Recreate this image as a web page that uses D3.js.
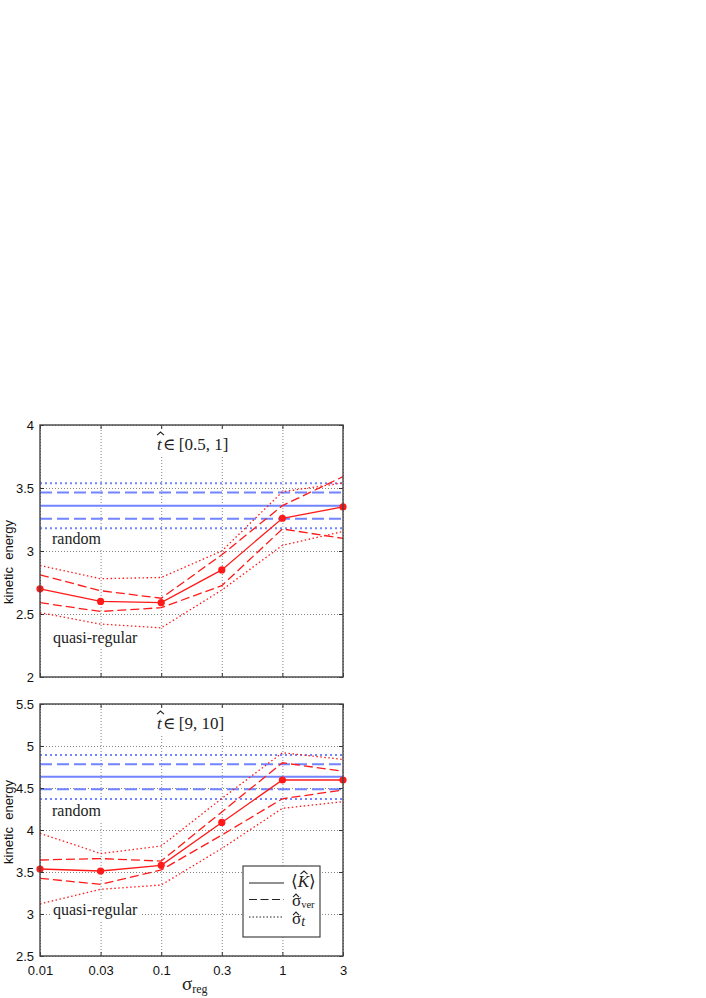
<!DOCTYPE html>
<html>
<head>
  <meta charset="utf-8">
  <title>kinetic energy vs sigma_reg</title>
  <style>
    body { margin: 0; background: #fff; }
    svg { display: block; }
  </style>
</head>
<body>
  <svg width="706" height="998"></svg>
  <script src="https://cdn.jsdelivr.net/npm/d3@7"></script>
  <script>
  // data
  var sigmaReg = ["0.01", "0.03", "0.1", "0.3", "1", "3"];

  // panel 1 : t in [0.5, 1]
  var topMean  = [2.70, 2.60, 2.59, 2.85, 3.26, 3.35];
  var topVerHi = [2.81, 2.685, 2.625, 2.97, 3.36, 3.59];
  var topVerLo = [2.59, 2.52, 2.55, 2.725, 3.175, 3.10];
  var topTHi   = [2.885, 2.78, 2.79, 3.0, 3.47, 3.54];
  var topTLo   = [2.51, 2.42, 2.39, 2.69, 3.045, 3.155];
  var topRandom = [3.36, 3.255, 3.465, 3.18, 3.537]; // mean, ver lo, ver hi, t lo, t hi
  var topTicks = [2, 2.5, 3, 3.5, 4];

  // panel 2 : t in [9, 10]
  var botMean  = [3.536, 3.512, 3.58, 4.09, 4.595, 4.595];
  var botVerHi = [3.643, 3.66, 3.63, 4.215, 4.80, 4.70];
  var botVerLo = [3.425, 3.353, 3.524, 3.94, 4.372, 4.476];
  var botTHi   = [3.96, 3.72, 3.81, 4.375, 4.92, 4.84];
  var botTLo   = [3.12, 3.294, 3.345, 3.78, 4.258, 4.337];
  var botRandom = [4.635, 4.485, 4.782, 4.369, 4.893];
  var botTicks = [2.5, 3, 3.5, 4, 4.5, 5, 5.5];

  var RED = "#ff1a1a";
  var BLUE = "#7284ff";
  var INK = "#222";
  var SERIF = "'Liberation Serif', 'DejaVu Serif', serif";
  var SANS = "'Liberation Sans', Arial, sans-serif";

  var svg = d3.select("svg");
  var x = d3.scalePoint().domain(sigmaReg).range([40, 343]);

  function dashOf(kind) {
    if (kind == "ver") return "9,4";
    if (kind == "t") return "1.5,2.5";
    return null;
  }

  // little circumflex accent drawn as a path (cx = centre, ty = apex)
  function hat(g, cx, ty, w) {
    var p = d3.path();
    p.moveTo(cx - w / 2, ty + 3.2);
    p.lineTo(cx, ty);
    p.lineTo(cx + w / 2, ty + 3.2);
    g.append("path").attr("d", p.toString()).attr("fill", "none")
      .attr("stroke", INK).attr("stroke-width", 1.1);
  }

  function panel(opt) {
    var y = d3.scaleLinear().domain(opt.domain).range([opt.bottom, opt.top]);
    var g = svg.append("g");
    var w = 343 - 40, h = opt.bottom - opt.top;

    // grid
    g.append("g").attr("transform", "translate(40,0)")
      .call(d3.axisLeft(y).tickValues(opt.ticks).tickSize(-w).tickFormat(""))
      .call(function(s) { s.select(".domain").remove(); })
      .selectAll("line").attr("stroke", "#666").attr("stroke-width", 0.8).attr("stroke-dasharray", "1,2");
    g.append("g").attr("transform", "translate(0," + opt.bottom + ")")
      .call(d3.axisBottom(x).tickSize(-h).tickFormat(""))
      .call(function(s) { s.select(".domain").remove(); })
      .selectAll("line").attr("stroke", "#666").attr("stroke-width", 0.8).attr("stroke-dasharray", "1,2");

    // text boxes with white background
    opt.labels.forEach(function(l) {
      g.append("rect").attr("x", l.x - 3).attr("y", l.y - 14).attr("width", l.w).attr("height", 19).attr("fill", "#fff");
      g.append("text").attr("x", l.x).attr("y", l.y)
        .attr("font-family", SERIF).attr("font-size", 16).attr("fill", INK).text(l.text);
    });

    // title with hat
    var tx = 157, ty = opt.top + 25;
    g.append("rect").attr("x", 154).attr("y", opt.top + 4).attr("width", 73).attr("height", 27).attr("fill", "#fff");
    g.append("text").attr("x", tx).attr("y", ty)
      .attr("font-family", SERIF).attr("font-size", 17).attr("fill", INK)
      .html("<tspan font-style='italic'>t</tspan><tspan dx='1'>\u2208</tspan>\u2009" + opt.interval);
    hat(g, tx + 3.5, ty - 18, 7);

    // random reference lines (blue)
    var r = opt.random;
    var hl = [[r[0], null], [r[1], "ver"], [r[2], "ver"], [r[3], "t"], [r[4], "t"]];
    hl.forEach(function(d) {
      g.append("line").attr("x1", 40).attr("x2", 343).attr("y1", y(d[0])).attr("y2", y(d[0]))
        .attr("stroke", BLUE).attr("stroke-width", 2)
        .attr("stroke-dasharray", d[1] == "ver" ? "12,5" : (d[1] == "t" ? "2,3" : null));
    });

    // red curves
    var line = d3.line().x(function(d, i) { return x(sigmaReg[i]); }).y(function(d) { return y(d); });
    [[opt.tLo, "t"], [opt.tHi, "t"], [opt.verLo, "ver"], [opt.verHi, "ver"], [opt.mean, null]].forEach(function(s) {
      g.append("path").datum(s[0]).attr("d", line).attr("fill", "none")
        .attr("stroke", RED).attr("stroke-width", 1.3).attr("stroke-dasharray", dashOf(s[1]));
    });
    g.selectAll(".dot").data(opt.mean).enter().append("circle")
      .attr("cx", function(d, i) { return x(sigmaReg[i]); })
      .attr("cy", function(d) { return y(d); })
      .attr("r", 3.6).attr("fill", RED);

    // axes: inward ticks on all sides
    var left = g.append("g").attr("transform", "translate(40,0)")
      .call(d3.axisLeft(y).tickValues(opt.ticks).tickSize(-4).tickPadding(6).tickFormat(function(d) { return d; }));
    left.selectAll("text").attr("font-family", SANS).attr("font-size", 13).attr("fill", "#111");
    g.append("g").attr("transform", "translate(343,0)")
      .call(d3.axisRight(y).tickValues(opt.ticks).tickSize(-4).tickFormat(""));
    g.append("g").attr("transform", "translate(0," + opt.top + ")")
      .call(d3.axisTop(x).tickSize(-4).tickFormat(""));
    var bot = g.append("g").attr("transform", "translate(0," + opt.bottom + ")")
      .call(d3.axisBottom(x).tickSize(-4).tickPadding(10));
    if (opt.xLabels) {
      bot.selectAll("text").attr("font-family", SANS).attr("font-size", 13).attr("fill", "#111");
    } else {
      bot.selectAll("text").remove();
    }
    g.selectAll(".domain").remove();
    g.selectAll(".tick line").filter(function() { return !this.getAttribute("stroke-dasharray"); })
      .attr("stroke", "#333").attr("stroke-width", 1);
    g.append("rect").attr("x", 40).attr("y", opt.top).attr("width", w).attr("height", h)
      .attr("fill", "none").attr("stroke", "#444").attr("stroke-width", 1.4);

    // y label
    g.append("text").attr("transform", "translate(13," + opt.ylabY + ") rotate(-90)")
      .attr("text-anchor", "middle").attr("font-family", SANS).attr("font-size", 13)
      .attr("fill", "#111").style("white-space", "pre").text("kinetic  energy");
    return y;
  }

  panel({
    domain: [2, 4], top: 425, bottom: 677, ticks: topTicks, interval: "[0.5, 1]",
    mean: topMean, verHi: topVerHi, verLo: topVerLo, tHi: topTHi, tLo: topTLo, random: topRandom,
    labels: [{ text: "random", x: 52, y: 544, w: 54 }, { text: "quasi-regular", x: 53, y: 643, w: 90 }],
    ylabY: 562, xLabels: false
  });

  panel({
    domain: [2.5, 5.5], top: 704, bottom: 956, ticks: botTicks, interval: "[9, 10]",
    mean: botMean, verHi: botVerHi, verLo: botVerLo, tHi: botTHi, tLo: botTLo, random: botRandom,
    labels: [{ text: "random", x: 52, y: 816, w: 54 }, { text: "quasi-regular", x: 53, y: 915, w: 90 }],
    ylabY: 822, xLabels: true
  });

  // legend
  var lg = svg.append("g");
  lg.append("rect").attr("x", 243).attr("y", 866).attr("width", 77).attr("height", 71)
    .attr("fill", "#fff").attr("stroke", "#444").attr("stroke-width", 1.2);
  var legendRows = [
    { dash: null, y: 883 },
    { dash: "8,3.5", y: 899.5 },
    { dash: "1.5,2", y: 917 }
  ];
  legendRows.forEach(function(d) {
    lg.append("line").attr("x1", 249).attr("x2", 284).attr("y1", d.y).attr("y2", d.y)
      .attr("stroke", INK).attr("stroke-width", 1.2).attr("stroke-dasharray", d.dash);
  });
  lg.append("text").attr("x", 291).attr("y", 887).attr("font-family", SERIF).attr("font-size", 17).attr("fill", INK)
    .html("\u27e8<tspan font-style='italic'>K</tspan>\u27e9");
  hat(lg, 304, 871, 7);
  lg.append("text").attr("x", 292).attr("y", 906).attr("font-family", SERIF).attr("font-size", 17).attr("fill", INK)
    .html("\u03c3<tspan font-size='10.5' dy='2'>ver</tspan>");
  hat(lg, 296, 894, 6);
  lg.append("text").attr("x", 292).attr("y", 924).attr("font-family", SERIF).attr("font-size", 17).attr("fill", INK)
    .html("\u03c3<tspan font-size='14' font-style='italic' dy='2'>t</tspan>");
  hat(lg, 296, 912, 6);

  // x label
  svg.append("text").attr("x", 182).attr("y", 990).attr("font-family", SERIF).attr("font-size", 19).attr("fill", INK)
    .html("\u03c3<tspan font-size='12' dy='3'>reg</tspan>");
  </script>
</body>
</html>
